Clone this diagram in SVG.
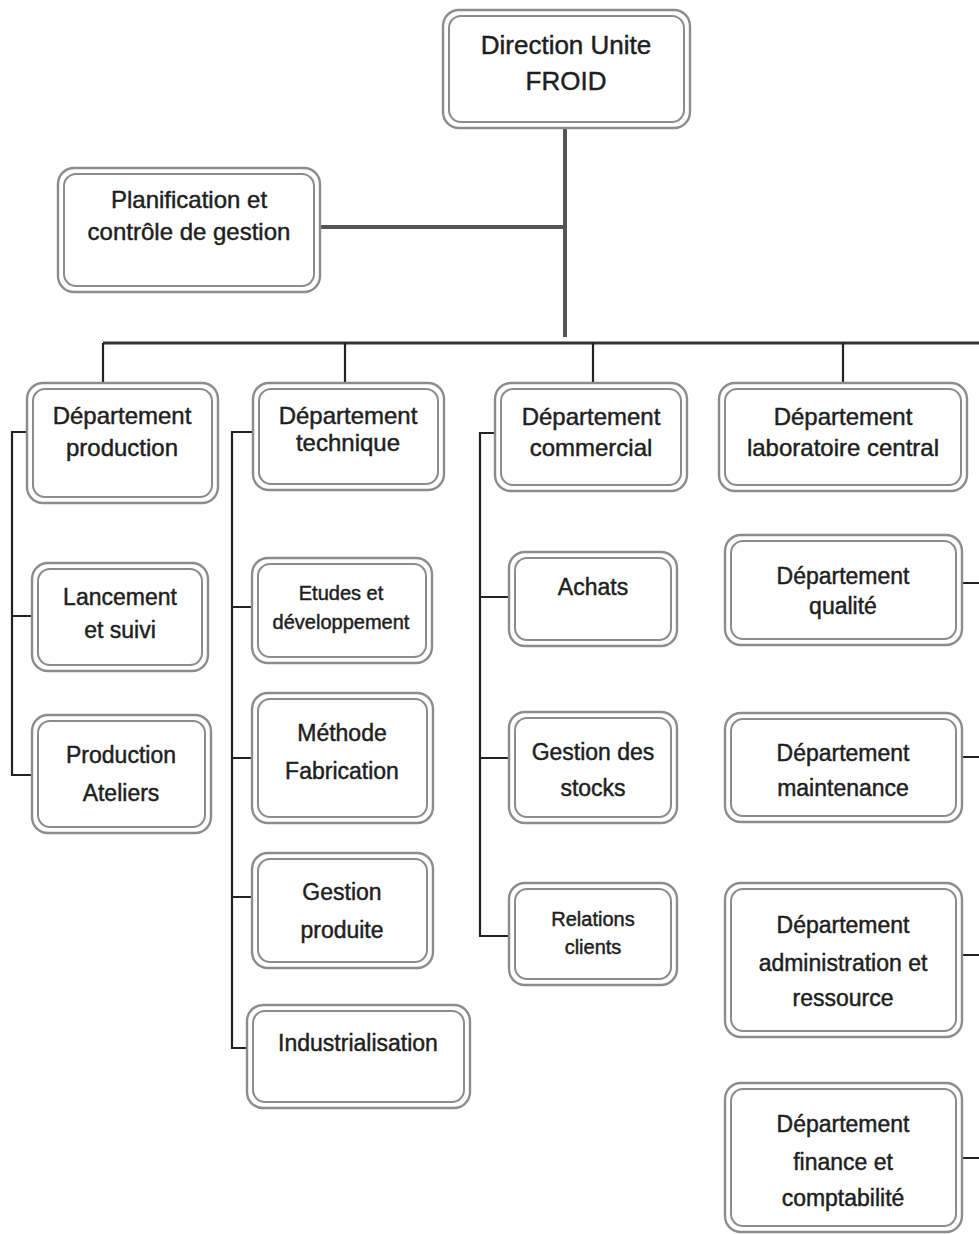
<svg xmlns="http://www.w3.org/2000/svg" width="979" height="1234" viewBox="0 0 979 1234">
<style>
.o{fill:#fff;stroke:#8c8c8c;stroke-width:2.4}
.i{fill:#fff;stroke:#8c8c8c;stroke-width:2}
text{font-family:"Liberation Sans",Arial,sans-serif;fill:#1e1e1e;stroke:#1e1e1e;stroke-width:0.45;text-anchor:middle;font-size:23px}
.big{font-size:26px}
.m{font-size:24px}
.s{font-size:20px}
.stem{stroke:#555;stroke-width:4;fill:none}
.bar{stroke:#333;stroke-width:3;fill:none}
.c{stroke:#222;stroke-width:2.2;fill:none}
</style>
<rect width="979" height="1234" fill="#fff"/>
<g id="connectors">
<path class="stem" d="M565 128V337"/>
<path class="stem" d="M320 227H565"/>
<path class="bar" d="M103 343H979"/>
<path class="c" d="M103 343V385M345 343V385M593 343V385M843 343V385"/>
<path class="c" d="M27 432H12V775H32M12 616H32"/>
<path class="c" d="M253 432H232V1048H247M232 607H252M232 758H252M232 897H252"/>
<path class="c" d="M495 433H480V936H509M480 597H509M480 758H509"/>
<path class="c" d="M962 583H979M962 757H979M962 955H979M962 1158H979"/>
</g>
<g id="direction">
<rect class="o" x="443" y="10" width="247" height="118" rx="16"/>
<rect class="i" x="449" y="16" width="235" height="106" rx="12"/>
<text class="big" x="566" y="54">Direction Unite</text>
<text class="big" x="566" y="90">FROID</text>
</g>
<g id="planification">
<rect class="o" x="58" y="168" width="262" height="124" rx="16"/>
<rect class="i" x="64" y="174" width="250" height="112" rx="12"/>
<text class="m" x="189" y="208">Planification et</text>
<text class="m" x="189" y="240">contrôle de gestion</text>
</g>
<g id="dep-production">
<rect class="o" x="27" y="383" width="191" height="120" rx="16"/>
<rect class="i" x="33" y="389" width="179" height="108" rx="12"/>
<text class="m" x="122" y="424">Département</text>
<text class="m" x="122" y="456">production</text>
</g>
<g id="dep-technique">
<rect class="o" x="253" y="383" width="191" height="107" rx="16"/>
<rect class="i" x="259" y="389" width="179" height="95" rx="12"/>
<text class="m" x="348" y="424">Département</text>
<text class="m" x="348" y="451">technique</text>
</g>
<g id="dep-commercial">
<rect class="o" x="495" y="383" width="192" height="108" rx="16"/>
<rect class="i" x="501" y="389" width="180" height="96" rx="12"/>
<text class="m" x="591" y="425">Département</text>
<text class="m" x="591" y="456">commercial</text>
</g>
<g id="dep-labo">
<rect class="o" x="719" y="383" width="248" height="108" rx="16"/>
<rect class="i" x="725" y="389" width="236" height="96" rx="12"/>
<text class="m" x="843" y="425">Département</text>
<text class="m" x="843" y="456">laboratoire central</text>
</g>
<g id="lancement">
<rect class="o" x="32" y="563" width="176" height="108" rx="16"/>
<rect class="i" x="38" y="569" width="164" height="96" rx="12"/>
<text x="120" y="605">Lancement</text>
<text x="120" y="638">et suivi</text>
</g>
<g id="production-ateliers">
<rect class="o" x="32" y="715" width="179" height="118" rx="16"/>
<rect class="i" x="38" y="721" width="167" height="106" rx="12"/>
<text x="121" y="763">Production</text>
<text x="121" y="801">Ateliers</text>
</g>
<g id="etudes">
<rect class="o" x="252" y="558" width="180" height="105" rx="16"/>
<rect class="i" x="258" y="564" width="168" height="93" rx="12"/>
<text class="s" x="341" y="600">Etudes et</text>
<text class="s" x="341" y="629">développement</text>
</g>
<g id="methode">
<rect class="o" x="252" y="693" width="181" height="130" rx="16"/>
<rect class="i" x="258" y="699" width="169" height="118" rx="12"/>
<text x="342" y="741">Méthode</text>
<text x="342" y="779">Fabrication</text>
</g>
<g id="gestion-produite">
<rect class="o" x="252" y="853" width="181" height="115" rx="16"/>
<rect class="i" x="258" y="859" width="169" height="103" rx="12"/>
<text x="342" y="900">Gestion</text>
<text x="342" y="938">produite</text>
</g>
<g id="industrialisation">
<rect class="o" x="247" y="1005" width="223" height="103" rx="16"/>
<rect class="i" x="253" y="1011" width="211" height="91" rx="12"/>
<text x="358" y="1051">Industrialisation</text>
</g>
<g id="achats">
<rect class="o" x="509" y="552" width="168" height="94" rx="16"/>
<rect class="i" x="515" y="558" width="156" height="82" rx="12"/>
<text x="593" y="595">Achats</text>
</g>
<g id="gestion-stocks">
<rect class="o" x="509" y="712" width="168" height="111" rx="16"/>
<rect class="i" x="515" y="718" width="156" height="99" rx="12"/>
<text x="593" y="760">Gestion des</text>
<text x="593" y="796">stocks</text>
</g>
<g id="relations-clients">
<rect class="o" x="509" y="883" width="168" height="102" rx="16"/>
<rect class="i" x="515" y="889" width="156" height="90" rx="12"/>
<text class="s" x="593" y="926">Relations</text>
<text class="s" x="593" y="954">clients</text>
</g>
<g id="dep-qualite">
<rect class="o" x="725" y="535" width="237" height="110" rx="16"/>
<rect class="i" x="731" y="541" width="225" height="98" rx="12"/>
<text x="843" y="584">Département</text>
<text x="843" y="614">qualité</text>
</g>
<g id="dep-maintenance">
<rect class="o" x="725" y="713" width="237" height="109" rx="16"/>
<rect class="i" x="731" y="719" width="225" height="97" rx="12"/>
<text x="843" y="761">Département</text>
<text x="843" y="796">maintenance</text>
</g>
<g id="dep-administration">
<rect class="o" x="725" y="883" width="237" height="154" rx="16"/>
<rect class="i" x="731" y="889" width="225" height="142" rx="12"/>
<text x="843" y="933">Département</text>
<text x="843" y="971">administration et</text>
<text x="843" y="1006">ressource</text>
</g>
<g id="dep-finance">
<rect class="o" x="725" y="1083" width="237" height="149" rx="16"/>
<rect class="i" x="731" y="1089" width="225" height="137" rx="12"/>
<text x="843" y="1132">Département</text>
<text x="843" y="1170">finance et</text>
<text x="843" y="1206">comptabilité</text>
</g>
</svg>
